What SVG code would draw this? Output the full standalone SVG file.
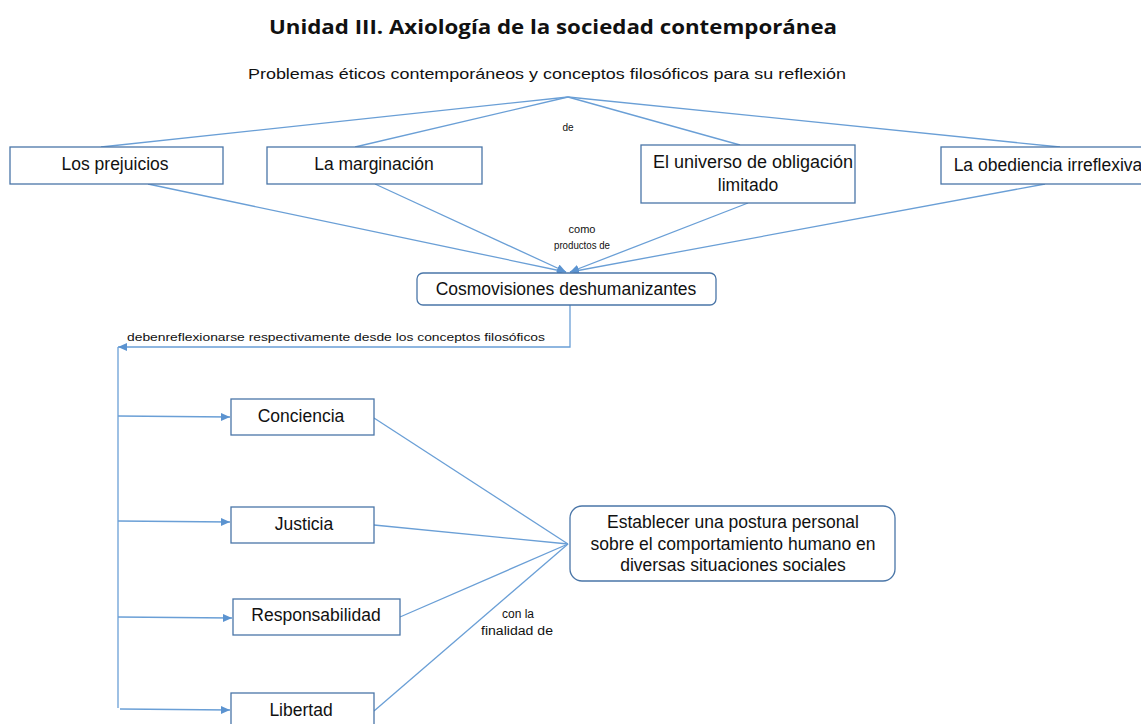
<svg xmlns="http://www.w3.org/2000/svg" width="1141" height="724" viewBox="0 0 1141 724">
<defs>
<style>
.ln{stroke:#6a9fd6;stroke-width:1.3;fill:none}
.bx{fill:#fff;stroke:#4a76a8;stroke-width:1.3}
.t{font-family:"Liberation Sans",Arial,sans-serif;font-size:17.5px;fill:#111;text-anchor:middle}
.s{font-family:"Liberation Sans",Arial,sans-serif;font-size:11px;fill:#111;text-anchor:middle}
</style>
<marker id="ar" markerWidth="10" markerHeight="10" refX="9" refY="4.5" orient="auto" markerUnits="userSpaceOnUse">
<path d="M0,0.5 L9,4.5 L0,8.5 Z" fill="#5b93d0"/>
</marker>
</defs>
<rect width="1141" height="724" fill="#fff"/>
<text x="553" y="34" font-family="'Open Sans','Liberation Sans',sans-serif" font-weight="bold" font-size="20" text-anchor="middle" fill="#111" textLength="568" lengthAdjust="spacingAndGlyphs">Unidad III. Axiología de la sociedad contemporánea</text>
<text x="547" y="79" class="t" style="font-size:15px" textLength="598" lengthAdjust="spacingAndGlyphs">Problemas éticos contemporáneos y conceptos filosóficos para su reflexión</text>
<g id="connectors">
<line class="ln" x1="568" y1="97" x2="101" y2="147"/>
<line class="ln" x1="568" y1="97" x2="355" y2="147"/>
<line class="ln" x1="568" y1="97" x2="740" y2="145"/>
<line class="ln" x1="568" y1="97" x2="1060" y2="147"/>
<line class="ln" x1="148" y1="184" x2="566" y2="272" marker-end="url(#ar)"/>
<line class="ln" x1="375" y1="184" x2="566" y2="272" marker-end="url(#ar)"/>
<line class="ln" x1="748" y1="203" x2="570" y2="272" marker-end="url(#ar)"/>
<line class="ln" x1="1045" y1="184" x2="570" y2="272" marker-end="url(#ar)"/>
<polyline class="ln" points="570,305 570,347 118,347" marker-end="url(#ar)"/>
<line class="ln" x1="118" y1="347" x2="118" y2="708"/>
<line class="ln" x1="118" y1="416" x2="230" y2="417" marker-end="url(#ar)"/>
<line class="ln" x1="118" y1="521" x2="230" y2="522" marker-end="url(#ar)"/>
<line class="ln" x1="118" y1="617" x2="232" y2="618" marker-end="url(#ar)"/>
<line class="ln" x1="120" y1="709" x2="230" y2="710" marker-end="url(#ar)"/>
<line class="ln" x1="374" y1="418" x2="568" y2="544"/>
<line class="ln" x1="374" y1="525" x2="568" y2="544"/>
<line class="ln" x1="400" y1="617" x2="568" y2="544"/>
<line class="ln" x1="374" y1="711" x2="568" y2="544"/>
<text x="568" y="131" class="s" style="font-size:10px">de</text>
<text x="582" y="233" class="s">como</text>
<text x="582" y="249" class="s" textLength="56" lengthAdjust="spacingAndGlyphs">productos de</text>
<text x="127" y="341" font-family="'Liberation Sans',Arial,sans-serif" font-size="11" fill="#111" textLength="418" lengthAdjust="spacingAndGlyphs">debenreflexionarse respectivamente  desde los conceptos filosóficos</text>
<text x="518" y="618" class="s" style="font-size:12px">con la</text>
<text x="517" y="635" class="s" style="font-size:12px" textLength="72" lengthAdjust="spacingAndGlyphs">finalidad de</text>
</g>
<g id="n-prejuicios"><rect class="bx" x="10" y="147" width="213" height="37"/><text x="115" y="170" class="t">Los prejuicios</text></g>
<g id="n-marginacion"><rect class="bx" x="267" y="147" width="215" height="37"/><text x="374" y="170" class="t">La marginación</text></g>
<g id="n-universo"><rect class="bx" x="641" y="145" width="214" height="58"/><text x="753" y="168" class="t" textLength="200" lengthAdjust="spacingAndGlyphs">El universo  de obligación</text><text x="748" y="191" class="t">limitado</text></g>
<g id="n-obediencia"><rect class="bx" x="941" y="147" width="205" height="37"/><text x="1048" y="171" class="t">La obediencia irreflexiva</text></g>
<g id="n-cosmovisiones"><rect class="bx" x="417" y="273" width="299" height="32" rx="6"/><text x="566" y="295" class="t">Cosmovisiones deshumanizantes</text></g>
<g id="n-conciencia"><rect class="bx" x="231" y="399" width="143" height="36"/><text x="301" y="422" class="t">Conciencia</text></g>
<g id="n-justicia"><rect class="bx" x="231" y="507" width="143" height="36"/><text x="304" y="530" class="t">Justicia</text></g>
<g id="n-responsabilidad"><rect class="bx" x="233" y="599" width="167" height="36"/><text x="316" y="621" class="t">Responsabilidad</text></g>
<g id="n-libertad"><rect class="bx" x="231" y="693" width="143" height="40"/><text x="301" y="716" class="t">Libertad</text></g>
<g id="n-postura"><rect class="bx" x="570" y="506" width="325" height="75" rx="12"/><text x="733" y="528" class="t">Establecer una postura personal</text><text x="733" y="550" class="t">sobre el comportamiento humano en</text><text x="733" y="571" class="t">diversas  situaciones sociales</text></g>
</svg>
